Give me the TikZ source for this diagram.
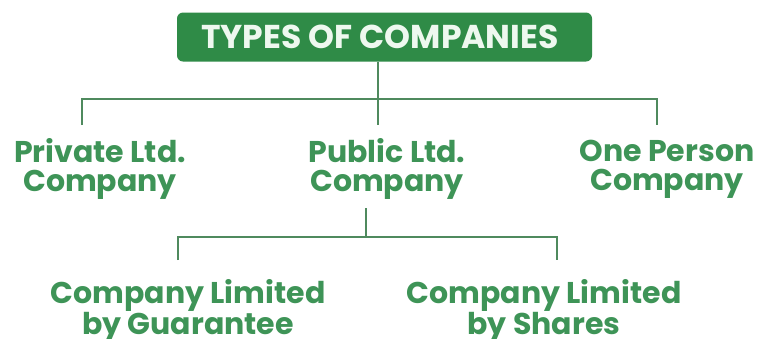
\documentclass[tikz,border=0pt]{standalone}
\usepackage{fontspec}
\setmainfont{Poppins}
\definecolor{boxgreen}{HTML}{2F8B47}
\definecolor{titletext}{HTML}{EEF8EF}
\definecolor{textgreen}{HTML}{3E9457}
\definecolor{linegreen}{HTML}{4F8A5E}
\begin{document}
\begin{tikzpicture}[x=1pt,y=-1pt,
  titlebox/.style={fill=boxgreen, rounded corners=6pt, minimum width=415pt, minimum height=49pt, inner sep=0pt,
    text=titletext, font=\fontsize{33}{35}\selectfont\bfseries},
  kind/.style={text=textgreen, align=center, inner sep=0pt, font=\fontsize{30}{29}\selectfont\bfseries},
  link/.style={draw=linegreen, line width=1.8pt}]
\useasboundingbox (0,0) rectangle (761,338);
\fill[white] (0,0) rectangle (761,338);
\node[titlebox] (root) at (384.5,37) {};
\node[text=titletext, font=\fontsize{33}{35}\selectfont\bfseries, inner sep=0pt] (title) at (380,37) {TYPES OF COMPANIES};
\node[kind] (priv) at (100,169) {Private Ltd.\\Company};
\node[kind] (pub) at (387,169) {Public Ltd.\\Company};
\node[kind] (opc) at (667,169) {One Person\\Company};
\node[kind] (guar) at (188,311) {Company Limited\\by Guarantee};
\node[kind] (shar) at (544,311) {Company Limited\\by Shares};
% top level connectors
\coordinate (j1) at (378,99);
\draw[link] (root.south -| j1) -- (j1);
\draw[link] (82,125) |- (657,99) -- (657,125);
\draw[link] (j1) -- (378,125);
% second level connectors
\coordinate (j2) at (366,237);
\draw[link] (366,208) -- (j2);
\draw[link] (178,260) |- (557,237) -- (557,260);
\end{tikzpicture}
\end{document}
